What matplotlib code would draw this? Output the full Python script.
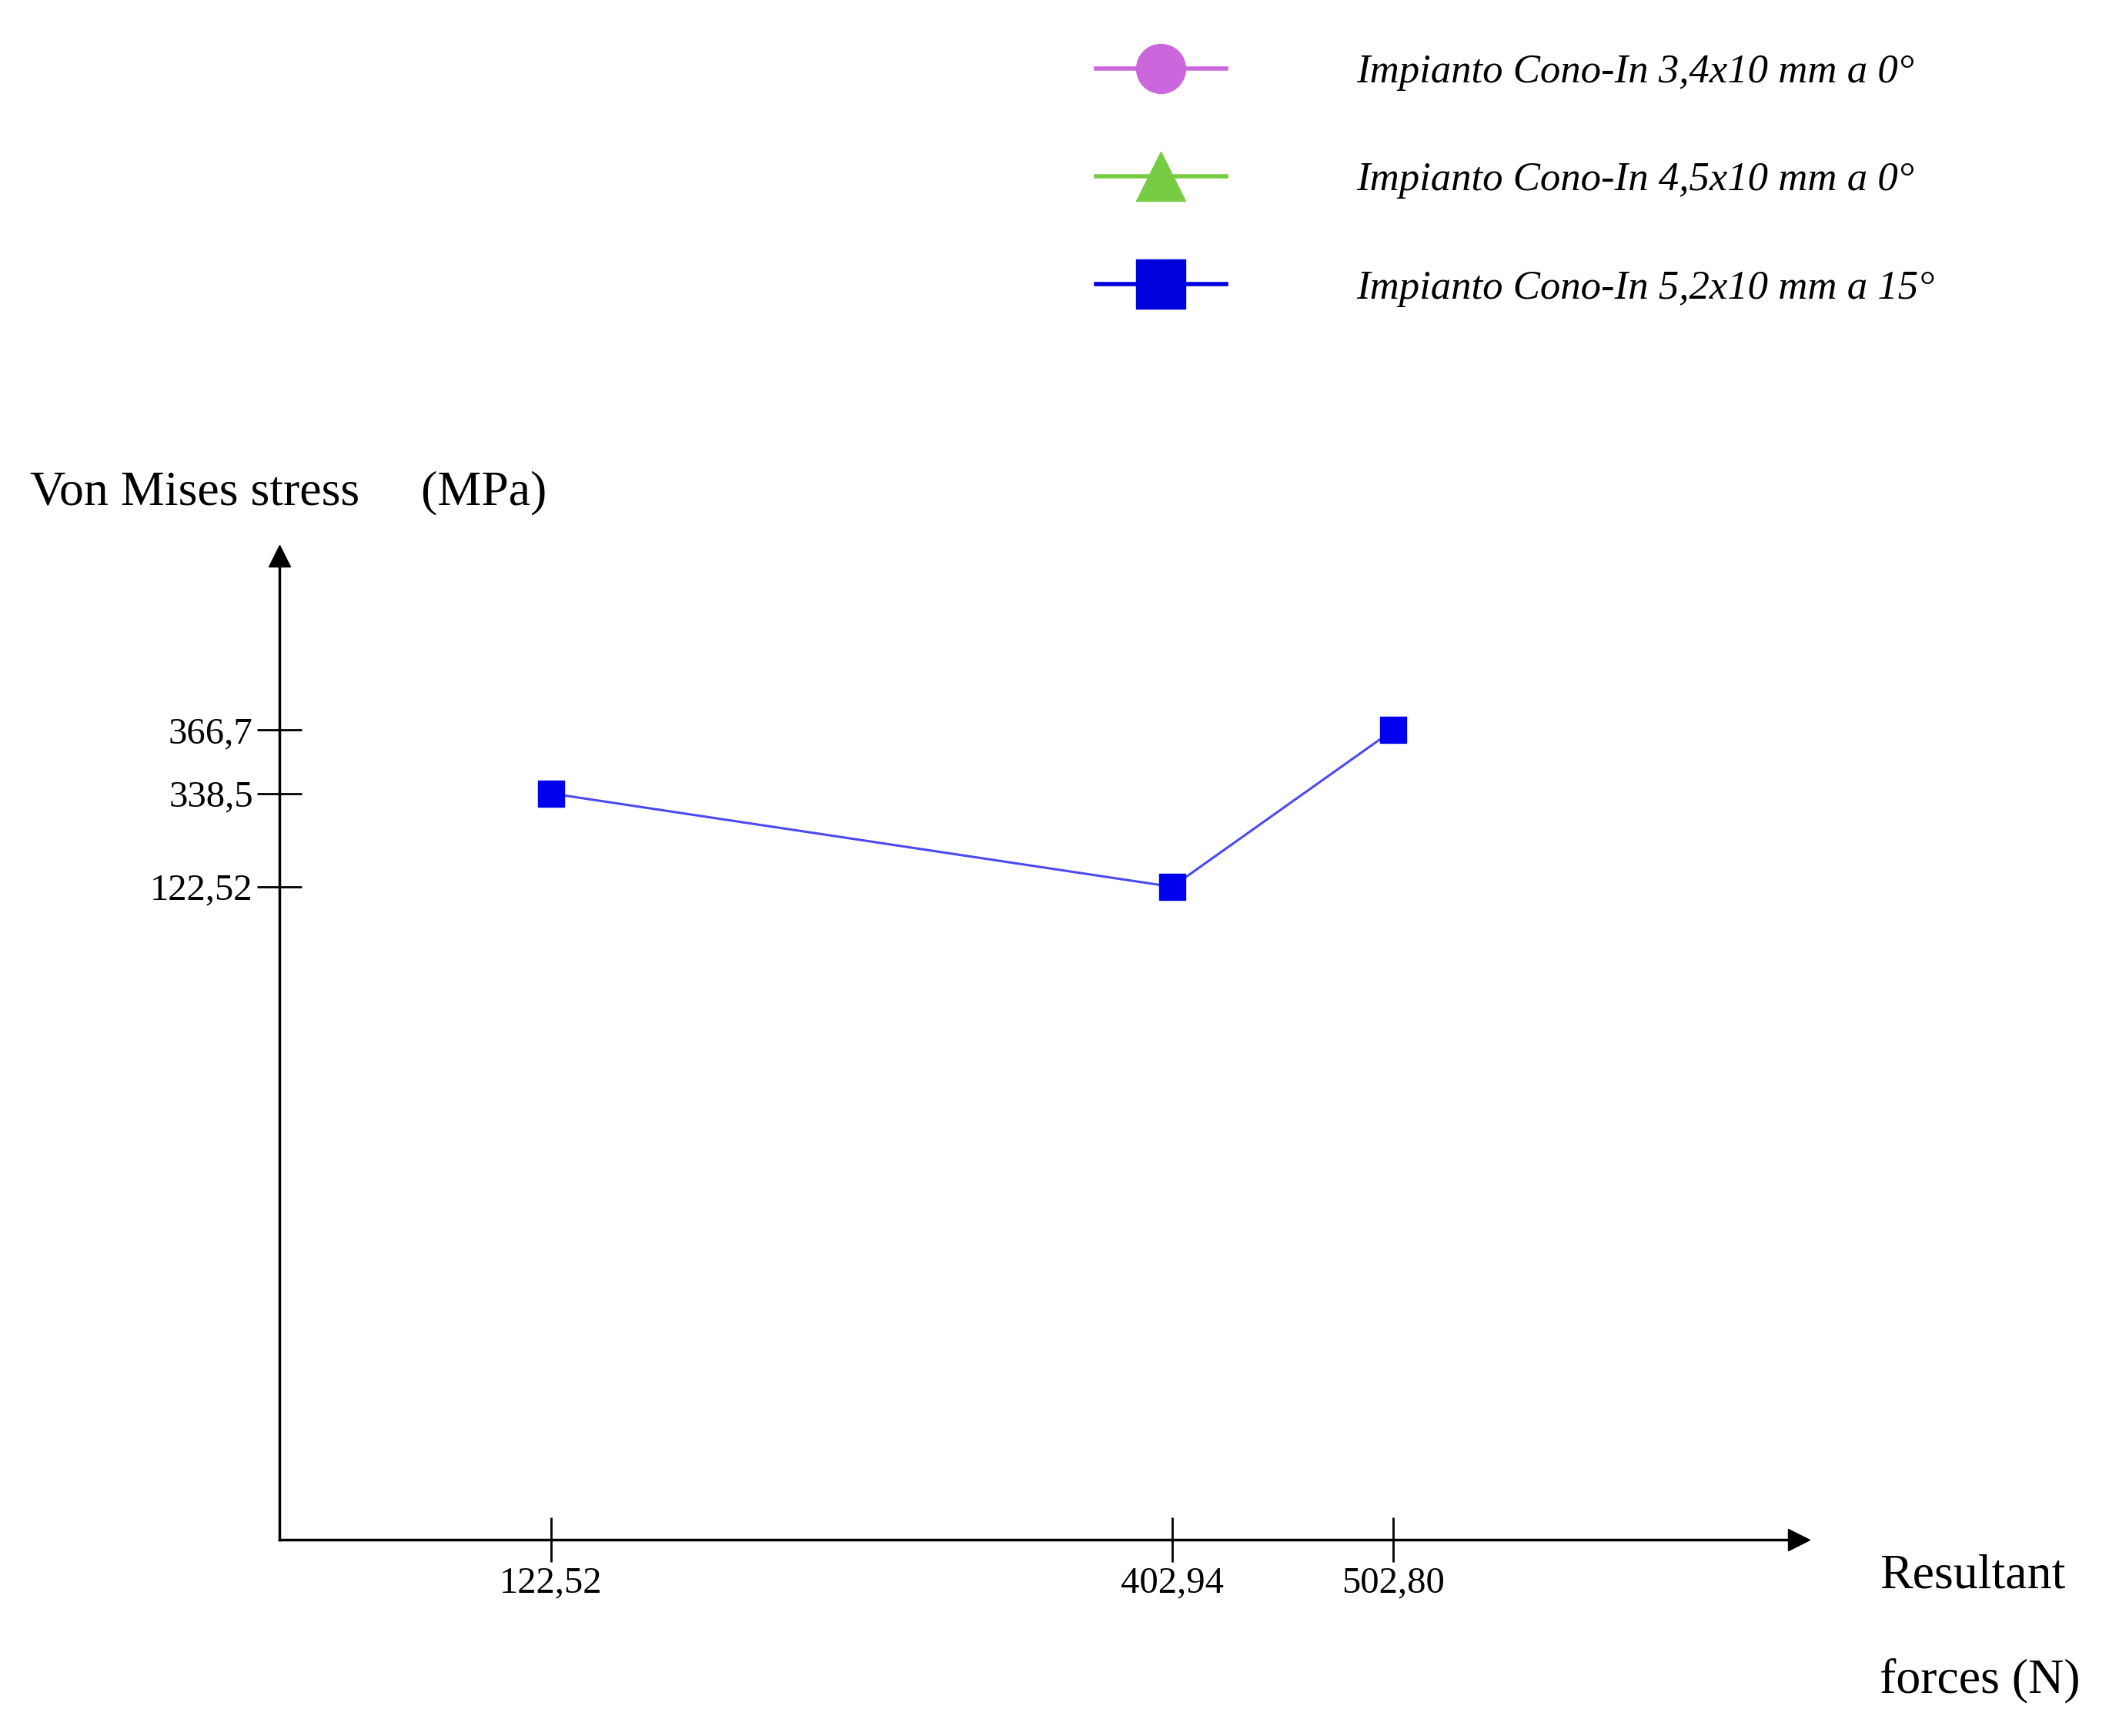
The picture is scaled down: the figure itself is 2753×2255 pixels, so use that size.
import numpy as np
import matplotlib
matplotlib.use("Agg")
import matplotlib.pyplot as plt
from matplotlib.lines import Line2D

forces = [122.52, 402.94, 502.80]
stress = [338.5, 122.52, 366.7]
x_ticks = [122.52, 402.94, 502.80]
x_labels = ["122,52", "402,94", "502,80"]
y_ticks = [122.52, 338.5, 366.7]
y_labels = ["122,52", "338,5", "366,7"]
legend_labels = ["Impianto Cono-In 3,4x10 mm a 0°",
                 "Impianto Cono-In 4,5x10 mm a 0°",
                 "Impianto Cono-In 5,2x10 mm a 15°"]

# non-linear display scale of the original figure
_v = np.array([0, 122.52, 338.5, 366.7, 600.0])
_p = np.array([0, 483.0, 552.0, 599.0, 832.0])
fwd = lambda v: np.interp(v, _v, _p)
inv = lambda p: np.interp(p, _p, _v)

plt.rcParams['font.family'] = ['Liberation Serif', 'DejaVu Serif']
fig = plt.figure(figsize=(27.53, 22.55), dpi=100)
ax = fig.add_axes([0.132, 0.113, 0.717, 0.567])
ax.set_yscale('function', functions=(fwd, inv))
ax.set_xlim(0, 686)
ax.set_ylim(0, inv(728.0))

ax.plot(forces, stress, color='#4a4af0', lw=2.2, marker='s', ms=24,
        mfc='#0000ee', mec='#0000ee', zorder=3)

for s in ['top', 'right']:
    ax.spines[s].set_visible(False)
for s in ['left', 'bottom']:
    ax.spines[s].set_linewidth(2.5)
ax.plot(1, 0, '>k', ms=20, transform=ax.transAxes, clip_on=False)
ax.plot(0, 1, '^k', ms=20, transform=ax.transAxes, clip_on=False)

ax.set_xticks(x_ticks)
ax.set_xticklabels(x_labels)
ax.set_yticks(y_ticks)
ax.set_yticklabels(y_labels)
ax.minorticks_off()
ax.tick_params(direction='inout', length=42, width=2, labelsize=35, pad=4)

fig.text(0.014, 0.716, "Von Mises stress     (MPa)", fontsize=46, va='center')
fig.text(0.887, 0.092, "Resultant", fontsize=46, va='center')
fig.text(0.887, 0.032, "forces (N)", fontsize=46, va='center')

handles = [Line2D([], [], color='#cc66dd', marker='o', ms=46, lw=4),
           Line2D([], [], color='#77cc44', marker='^', ms=46, lw=4),
           Line2D([], [], color='#0000dd', marker='s', ms=46, lw=4)]
fig.legend(handles, legend_labels, loc='upper left', bbox_to_anchor=(0.5, 0.99),
           frameon=False, prop={'style': 'italic', 'size': 38},
           handlelength=3.2, handletextpad=3.2, labelspacing=1.75)

fig.savefig("out.png", dpi=100)
